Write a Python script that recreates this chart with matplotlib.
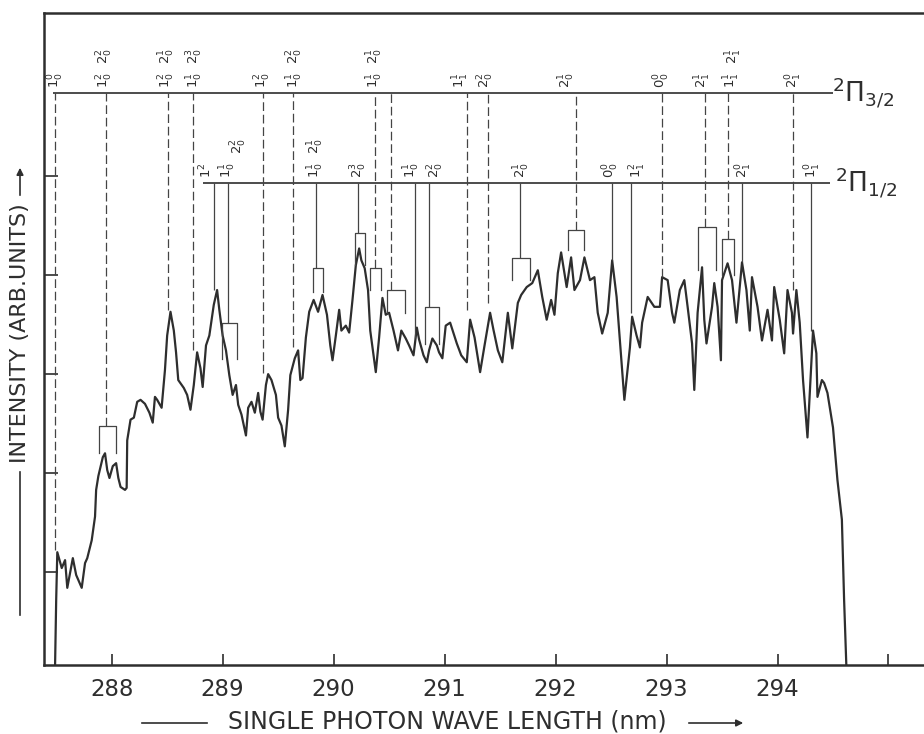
import matplotlib
matplotlib.use("Agg")
import matplotlib.pyplot as plt

# spectrum trace (wavelength nm, intensity arb. units)
wl = [287.49, 287.50, 287.51, 287.55, 287.58, 287.60, 287.65, 287.68, 287.73, 287.76,
      287.78, 287.82, 287.85, 287.86, 287.88, 287.92, 287.94, 287.96, 287.98, 288.01,
      288.04, 288.06, 288.08, 288.12, 288.135, 288.14, 288.17, 288.20, 288.23, 288.26,
      288.30, 288.34, 288.37, 288.39, 288.41, 288.45, 288.48, 288.50, 288.53, 288.56,
      288.58, 288.60, 288.65, 288.68, 288.71, 288.74, 288.77, 288.80, 288.82, 288.85,
      288.88, 288.92, 288.95, 288.97, 289.00, 289.03, 289.06, 289.09, 289.12, 289.14,
      289.17, 289.21, 289.23, 289.26, 289.29, 289.32, 289.34, 289.36, 289.39, 289.41,
      289.44, 289.48, 289.50, 289.53, 289.56, 289.59, 289.61, 289.65, 289.68, 289.70,
      289.72, 289.75, 289.78, 289.82, 289.86, 289.90, 289.94, 289.97, 289.99, 290.02,
      290.05, 290.07, 290.11, 290.14, 290.17, 290.20, 290.23, 290.25, 290.28, 290.31,
      290.33, 290.36, 290.38, 290.41, 290.44, 290.47, 290.50, 290.54, 290.58, 290.61,
      290.65, 290.68, 290.72, 290.75, 290.77, 290.81, 290.84, 290.86, 290.89, 290.93,
      290.95, 290.98, 291.01, 291.05, 291.11, 291.15, 291.20, 291.23, 291.27, 291.32,
      291.36, 291.41, 291.44, 291.48, 291.52, 291.57, 291.61, 291.66, 291.69, 291.74,
      291.79, 291.84, 291.88, 291.92, 291.96, 291.99, 292.02, 292.05, 292.10, 292.14,
      292.17, 292.22, 292.26, 292.31, 292.35, 292.38, 292.42, 292.47, 292.51, 292.55,
      292.58, 292.62, 292.67, 292.69, 292.73, 292.76, 292.78, 292.83, 292.89, 292.94,
      292.96, 293.01, 293.05, 293.07, 293.12, 293.16, 293.19, 293.23, 293.25, 293.28,
      293.32, 293.34, 293.36, 293.41, 293.43, 293.46, 293.49, 293.50, 293.55, 293.59,
      293.63, 293.68, 293.72, 293.75, 293.77, 293.82, 293.86, 293.91, 293.95, 293.97,
      294.02, 294.06, 294.09, 294.13, 294.14, 294.17, 294.20, 294.23, 294.27, 294.32,
      294.35, 294.36, 294.40, 294.42, 294.45, 294.50, 294.54, 294.58, 294.60, 294.62]
inten = [0.06, 0.72, 1.20, 1.04, 1.12, 0.84, 1.14, 0.97, 0.84, 1.09,
         1.14, 1.32, 1.56, 1.83, 1.97, 2.16, 2.20, 2.03, 1.95, 2.07,
         2.10, 1.95, 1.86, 1.83, 1.85, 2.33, 2.54, 2.56, 2.72, 2.74,
         2.70, 2.61, 2.51, 2.77, 2.74, 2.66, 3.04, 3.39, 3.63, 3.44,
         3.22, 2.94, 2.86, 2.79, 2.64, 2.89, 3.22, 3.06, 2.87, 3.29,
         3.39, 3.70, 3.85, 3.65, 3.39, 3.24, 2.99, 2.79, 2.89, 2.69,
         2.59, 2.38, 2.66, 2.72, 2.61, 2.81, 2.62, 2.54, 2.89, 3.00,
         2.94, 2.79, 2.56, 2.48, 2.27, 2.64, 2.99, 3.16, 3.24, 2.94,
         2.96, 3.37, 3.63, 3.75, 3.63, 3.80, 3.60, 3.29, 3.14, 3.39,
         3.65, 3.44, 3.49, 3.42, 3.75, 4.10, 4.27, 4.15, 4.07, 3.85,
         3.44, 3.19, 3.02, 3.37, 3.77, 3.60, 3.62, 3.44, 3.24, 3.44,
         3.36, 3.29, 3.19, 3.47, 3.35, 3.19, 3.12, 3.24, 3.36, 3.29,
         3.22, 3.16, 3.49, 3.52, 3.31, 3.19, 3.12, 3.55, 3.37, 3.02,
         3.29, 3.62, 3.45, 3.24, 3.12, 3.62, 3.26, 3.72, 3.80, 3.88,
         3.92, 4.05, 3.78, 3.55, 3.75, 3.60, 4.02, 4.23, 3.88, 4.18,
         3.85, 3.95, 4.18, 3.95, 3.98, 3.62, 3.41, 3.62, 4.15, 3.78,
         3.34, 2.74, 3.27, 3.58, 3.39, 3.27, 3.52, 3.78, 3.68, 3.68,
         3.98, 3.95, 3.62, 3.52, 3.85, 3.95, 3.68, 3.31, 2.84, 3.62,
         4.08, 3.55, 3.31, 3.68, 3.92, 3.68, 3.14, 3.95, 4.12, 3.95,
         3.52, 4.13, 3.85, 3.44, 3.98, 3.68, 3.34, 3.65, 3.34, 3.88,
         3.55, 3.21, 3.85, 3.62, 3.41, 3.85, 3.52, 2.94, 2.36, 3.44,
         3.21, 2.77, 2.94, 2.91, 2.81, 2.46, 1.93, 1.53, 0.72, 0.06]

# 2Pi 3/2 progression: level line, drop lines and labels
upper_level = 5.84
upper_span = (287.47, 294.50)
upper_wl = [287.49, 287.95, 288.51, 288.73, 289.36, 289.63, 290.37, 290.52,
            291.20, 291.39, 292.18, 292.96, 293.35, 293.55, 294.14]
upper_end = [1.22, 2.48, 3.65, 3.24, 3.01, 3.27, 4.07, 3.85,
             3.65, 3.72, 4.46, 3.98, 4.49, 4.37, 3.85]
upper_lab_wl = [287.50, 287.94, 288.50, 288.75, 289.36, 289.65, 290.37,
                291.15, 291.37, 292.10, 292.96, 293.33, 293.59, 294.15]
upper_lab = ['$1^0_0$', '$1^2_0$', '$1^2_0$', '$1^1_0$', '$1^2_0$', '$1^1_0$', '$1^1_0$',
             '$1^1_1$', '$2^2_0$', '$2^1_0$', '$0^0_0$', '$2^1_1$', '$1^1_1$', '$2^0_1$']
upper_lab2_wl = [287.94, 288.50, 288.75, 289.65, 290.37, 293.61]
upper_lab2 = ['$2^2_0$', '$2^1_0$', '$2^3_0$', '$2^2_0$', '$2^1_0$', '$2^1_1$']

# 2Pi 1/2 progression
lower_level = 4.93
lower_span = (288.82, 294.47)
lower_wl = [288.92, 289.05, 289.84, 290.22, 290.73, 290.86, 291.68, 292.51, 292.68, 293.68, 294.30]
lower_end = [3.85, 3.52, 4.07, 4.43, 3.37, 3.68, 4.17, 4.15, 3.62, 4.13, 3.44]
lower_lab_wl = [288.85, 289.05, 289.84, 290.23, 290.71, 290.92, 291.70, 292.50, 292.74, 293.70, 294.32]
lower_lab = ['$1^2$', '$1^1_0$', '$1^1_0$', '$2^3_0$', '$1^1_0$', '$2^2_0$', '$2^1_0$',
             '$0^0_0$', '$1^2_1$', '$2^0_1$', '$1^0_1$']
lower_lab2_wl = [289.15, 289.84]
lower_lab2 = ['$2^2_0$', '$2^1_0$']

# unresolved doublet brackets
br_left = [287.89, 288.99, 289.81, 290.19, 290.33, 290.48, 290.82, 291.61, 292.11, 293.28, 293.50]
br_right = [288.04, 289.13, 289.90, 290.28, 290.43, 290.64, 290.95, 291.77, 292.26, 293.45, 293.61]
br_level = [2.48, 3.52, 4.07, 4.43, 4.07, 3.85, 3.68, 4.17, 4.46, 4.49, 4.37]
br_drop = [2.20, 3.15, 3.83, 4.10, 3.85, 3.62, 3.30, 3.95, 4.25, 4.05, 4.00]

xticks = [288, 289, 290, 291, 292, 293, 294, 295]
xticklabels = ['288', '289', '290', '291', '292', '293', '294', '']
yticks = [1, 2, 3, 4, 5]

ink = '#2e2e2e'
plt.rcParams['font.family'] = ['DejaVu Sans']

fig = plt.figure(figsize=(9.24, 7.34), dpi=100)
ax = fig.add_axes([0.0476, 0.094, 0.9524, 0.8883])

ax.plot(wl, inten, color=ink, lw=1.6)

ax.hlines(upper_level, *upper_span, color=ink, lw=1.2)
ax.hlines(lower_level, *lower_span, color=ink, lw=1.2)
ax.vlines(upper_wl, upper_end, upper_level, color='#444444', lw=0.9, linestyles=(0, (7, 3)))
ax.vlines(lower_wl, lower_end, lower_level, color='#444444', lw=0.9)

for l, r, lev, d in zip(br_left, br_right, br_level, br_drop):
    ax.plot([l, l, r, r], [d, lev, lev, d], color='#444444', lw=0.9)

lab_kw = dict(rotation=90, ha='center', va='bottom', fontsize=9.5, color=ink)
for x, t in zip(upper_lab_wl, upper_lab):
    ax.text(x, 5.89, t, **lab_kw)
for x, t in zip(upper_lab2_wl, upper_lab2):
    ax.text(x, 6.13, t, **lab_kw)
for x, t in zip(lower_lab_wl, lower_lab):
    ax.text(x, 4.98, t, **lab_kw)
for x, t in zip(lower_lab2_wl, lower_lab2):
    ax.text(x, 5.22, t, **lab_kw)

ax.text(294.49, upper_level, r'$^2\Pi_{3/2}$', fontsize=19, va='center', ha='left', color=ink)
ax.text(294.52, lower_level, r'$^2\Pi_{1/2}$', fontsize=19, va='center', ha='left', color=ink)

ax.set_xlim(287.39, 295.32)
ax.set_ylim(0.06, 6.65)
ax.set_xticks(xticks)
ax.set_xticklabels(xticklabels)
ax.set_yticks(yticks)
ax.set_yticklabels([])
ax.tick_params(axis='x', direction='in', length=8, width=1.2, pad=9, labelsize=16.5, colors=ink)
ax.tick_params(axis='y', direction='in', length=10, width=1.2, colors=ink)
for s in ['left', 'bottom', 'top']:
    ax.spines[s].set_linewidth(1.8)
    ax.spines[s].set_color(ink)
ax.spines['right'].set_visible(False)

# axis titles with the hand drawn arrows
fig.text(20 / 924, 1 - 333 / 734, 'INTENSITY (ARB.UNITS)', rotation=90, ha='center', va='center',
         fontsize=16, color=ink)
fig.add_artist(plt.Line2D([20 / 924, 20 / 924], [1 - 615 / 734, 1 - 472 / 734], color=ink, lw=1.2))
ax.annotate('', xy=(20 / 924, 1 - 165 / 734), xytext=(20 / 924, 1 - 198 / 734),
            xycoords='figure fraction', arrowprops=dict(arrowstyle='-|>', color=ink, lw=1.2))
fig.text(447 / 924, 1 - 722 / 734, 'SINGLE PHOTON WAVE LENGTH (nm)', ha='center', va='center',
         fontsize=17, color=ink)
fig.add_artist(plt.Line2D([142 / 924, 207 / 924], [1 - 723 / 734, 1 - 723 / 734], color=ink, lw=1.2))
ax.annotate('', xy=(746 / 924, 1 - 723 / 734), xytext=(686 / 924, 1 - 723 / 734),
            xycoords='figure fraction', arrowprops=dict(arrowstyle='-|>', color=ink, lw=1.2))

fig.savefig('out.png', dpi=100)
